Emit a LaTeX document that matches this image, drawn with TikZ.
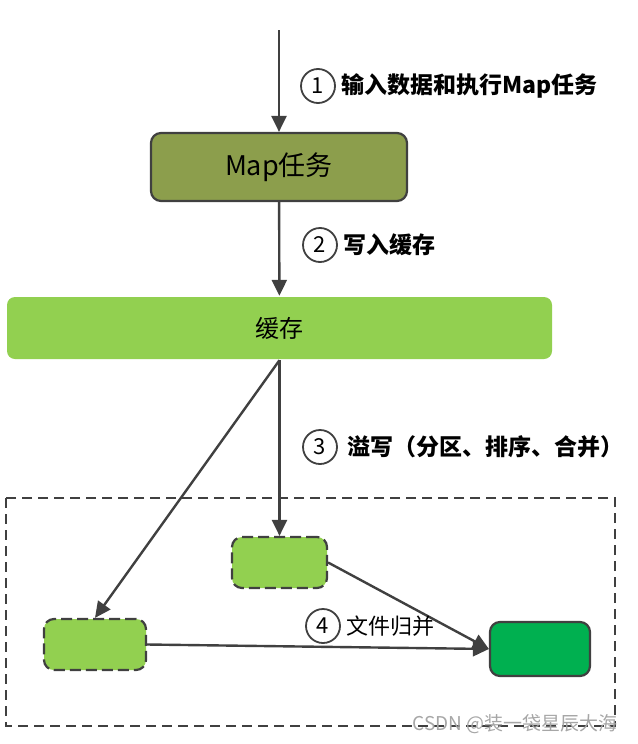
\documentclass[tikz,border=0pt]{standalone}
\usepackage{fontspec}
\setmainfont{Noto Sans CJK SC}
\usetikzlibrary{arrows.meta,positioning}

\definecolor{mapolive}{RGB}{140,158,76}
\definecolor{cachegreen}{RGB}{146,208,80}
\definecolor{mergegreen}{RGB}{0,176,80}
\definecolor{linegray}{RGB}{64,64,64}

\begin{document}
\begin{tikzpicture}[x=0.5pt,y=-0.5pt,line width=1.2pt,
  >={Triangle[length=8pt,width=7.5pt]},
  box/.style={draw=linegray,line width=1.1pt,rounded corners=5pt,inner sep=0pt},
  spillbox/.style={box,fill=cachegreen,dash pattern=on 5.5pt off 2.5pt,minimum height=25.5pt},
  num/.style={circle,draw=linegray,line width=0.9pt,fill=white,minimum size=17pt,inner sep=0pt,font=\fontsize{11}{12}\selectfont},
  lbl/.style={inner sep=0pt,font=\bfseries\fontsize{11.5}{13}\selectfont}]
\useasboundingbox (0,0) rectangle (637,744);

% boxes
\coordinate (input) at (279,30);
\node[box,fill=mapolive,minimum width=128pt,minimum height=34pt,font=\fontsize{13.5}{15}\selectfont] (map) at (279,167) {Map任务};
\node[fill=cachegreen,rounded corners=4pt,minimum width=272.5pt,minimum height=31pt,font=\fontsize{12}{14}\selectfont] (cache) at (279.5,328) {缓存};
\draw[linegray,line width=0.8pt,dash pattern=on 5pt off 3pt] (6,498) rectangle (615,726);
\node[spillbox,minimum width=47.5pt] (spill1) at (279.5,562.5) {};
\node[spillbox,minimum width=51pt] (spill2) at (95,644.5) {};
\node[box,fill=mergegreen,minimum width=50pt,minimum height=27pt] (merged) at (540,649) {};

% connectors
\draw[->,linegray] (input) -- (map);
\draw[->,linegray] (map) -- (cache);
\draw[->,linegray] (cache.south) -- (spill1.north);
\draw[->,linegray] (cache.south) -- (spill2.north);
\draw[->,linegray] (spill1.east) -- (merged.west);
\draw[->,linegray] (spill2.east) -- (merged.west);

% step labels
\node[num] (n1) at (318,86) {1};
\node[lbl,right=2pt of n1] (t1) {输入数据和执行Map任务};
\node[num] (n2) at (320,245) {2};
\node[lbl,right=2pt of n2] (t2) {写入缓存};
\node[num] (n3) at (320,447) {3};
\node[lbl,right=4pt of n3] (t3) {溢写（分区、排序、合并）};
\node[num] (n4) at (323,626) {4};
\node[inner sep=0pt,font=\fontsize{11}{13}\selectfont,right=2pt of n4] (t4) {文件归并};

\node[text=gray!70,font=\fontsize{9.5}{11}\selectfont] (mark) at (515,724) {CSDN @装一袋星辰大海};
\end{tikzpicture}
\end{document}
